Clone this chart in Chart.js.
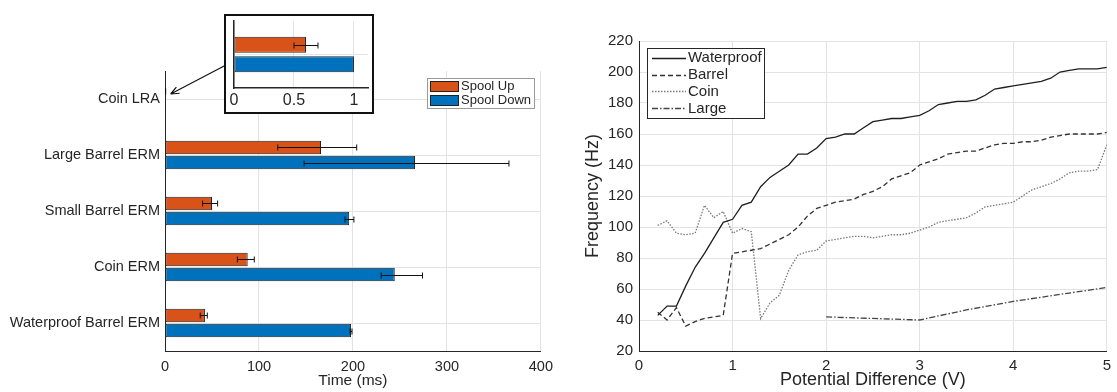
<!DOCTYPE html>
<html>
<head>
<meta charset="utf-8">
<script src="https://cdn.jsdelivr.net/npm/chart.js@4/dist/chart.umd.min.js"></script>
<style>
  body { margin: 0; background: #fff; }
  #wrap { position: relative; width: 1117px; height: 392px; overflow: hidden; }
  canvas { display: block; }
  #bars { position: absolute; left: 0; top: 0; }
  #lines { position: absolute; left: 560px; top: 0; }
  #inset { position: absolute; left: 224px; top: 14px; width: 146px; height: 96px;
           border: 2px solid #111; background: #fff; z-index: 2; }
</style>
</head>
<body>
<div id="wrap">
  <canvas id="bars" width="560" height="392"></canvas>
  <canvas id="lines" width="557" height="392"></canvas>
  <div id="inset"><canvas id="zoomBars" width="146" height="96"></canvas></div>
</div>

<script>
// ---- datos: tiempos de arranque / parada (ms) ----
const devices = ['Coin LRA', 'Large Barrel ERM', 'Small Barrel ERM', 'Coin ERM', 'Waterproof Barrel ERM'];
const spoolUp     = [0.6, 166, 50, 88, 42.5];
const spoolUpLo   = [0.5, 120, 40, 77, 37.5];
const spoolUpHi   = [0.7, 204, 56, 95, 45];
const spoolDown   = [1.0, 266, 196, 244.5, 198];
const spoolDownLo = [1.0, 148, 191.5, 230, 197];
const spoolDownHi = [1.0, 366, 201, 274, 199];
const timeTicks = [0, 100, 200, 300, 400];

// ---- datos: frecuencia vs tension ----
const volts = [0.2,0.3,0.4,0.5,0.6,0.7,0.8,0.9,1.0,1.1,1.2,1.3,1.4,1.5,1.6,1.7,1.8,1.9,2.0,
               2.1,2.2,2.3,2.4,2.5,2.6,2.7,2.8,2.9,3.0,3.1,3.2,3.3,3.4,3.5,3.6,3.7,3.8,3.9,4.0,
               4.1,4.2,4.3,4.4,4.5,4.6,4.7,4.8,4.9,5.0];
const waterproofHz = [43,49,49,62,74,83,93,103,105, 114,116,126,132,136,140,147,147,151,157,
                      158,160,160,164,168,169,170,170,171,172, 175,179,180,181,181,182,185,189,190,191,
                      192,193,194,196,200,201,202,202,202,203];
const barrelHz = [45,40,48,36,39,41,42,43,83, 84,85,86,89,92,95,100,107,112,114,
                  116,117,118,121,123,126,131,133,135,140, 142,144,147,148,149,149,151,153,154,154,
                  155,155,156,158,159,160,160,160,160,161];
const coinHz = [101,104,96,95,96,114,106,110,96, 99,97,41,51,56,72,82,84,85,91,
                92,93,94,94,93,94,95,95,96,98, 100,103,104,105,106,109,113,114,115,116,
                120,124,126,128,131,135,136,136,137,153];
const largeVolts = [2.0, 2.5, 3.0, 3.5, 4.0, 4.5, 5.0];
const largeHz    = [42, 41, 40, 46.5, 52, 56.5, 61];

const ORANGE = '#D95319', BLUE = '#0072BD', INK = '#262626', GRID = '#e3e3e3';
const INSET = { left: 224, top: 14, height: 100 };

Chart.defaults.font.family = "'Liberation Sans', Arial, sans-serif";
Chart.defaults.color = INK;
Chart.defaults.animation = false;

// Barras de error horizontales (lee errLo / errHi del dataset)
const errorBars = {
  id: 'errorBars',
  afterDatasetsDraw(chart) {
    const { ctx } = chart;
    const x = chart.scales.x;
    ctx.save();
    ctx.strokeStyle = '#111';
    ctx.lineWidth = 1;
    chart.data.datasets.forEach((ds, i) => {
      if (!ds.errLo) return;
      chart.getDatasetMeta(i).data.forEach((bar, j) => {
        const lo = ds.errLo[j], hi = ds.errHi[j];
        if (lo === hi) return;
        const x0 = x.getPixelForValue(lo), x1 = x.getPixelForValue(hi), y = Math.round(bar.y) + 0.5;
        ctx.beginPath();
        ctx.moveTo(x0, y); ctx.lineTo(x1, y);
        ctx.moveTo(x0, y - 3); ctx.lineTo(x0, y + 3);
        ctx.moveTo(x1, y - 3); ctx.lineTo(x1, y + 3);
        ctx.stroke();
      });
    });
    ctx.restore();
  }
};

// Leyenda con marco dentro del area de trazado
const frameLegend = {
  id: 'frameLegend',
  afterDraw(chart, args, o) {
    if (!o || o.w == null) return;
    const { ctx, chartArea } = chart;
    const x = chartArea.left + o.dx, y = chartArea.top + o.dy;
    ctx.save();
    ctx.fillStyle = '#fff';
    ctx.fillRect(x, y, o.w, o.h);
    ctx.strokeStyle = o.border;
    ctx.lineWidth = 1;
    ctx.strokeRect(x + 0.5, y + 0.5, o.w, o.h);
    ctx.font = o.font;
    ctx.textBaseline = 'middle';
    chart.data.datasets.forEach((ds, i) => {
      const cy = y + o.pad + i * o.row + o.row / 2;
      if (o.swatch) {
        ctx.fillStyle = ds.backgroundColor;
        ctx.fillRect(x + 3, cy - 5, 28, 10);
        ctx.strokeStyle = '#222';
        ctx.strokeRect(x + 3.5, cy - 4.5, 28, 10);
      } else {
        ctx.strokeStyle = ds.borderColor;
        ctx.lineWidth = ds.borderWidth;
        ctx.setLineDash(ds.borderDash || []);
        ctx.beginPath();
        ctx.moveTo(x + 5, Math.round(cy) + 0.5);
        ctx.lineTo(x + 39, Math.round(cy) + 0.5);
        ctx.stroke();
        ctx.setLineDash([]);
      }
      ctx.fillStyle = INK;
      ctx.fillText(ds.label, x + o.textX, cy + 0.5);
    });
    ctx.restore();
  }
};

// Flecha que une el recuadro ampliado con la barra Coin LRA
const calloutArrow = {
  id: 'calloutArrow',
  afterDraw(chart) {
    const { ctx } = chart;
    const tx = chart.scales.x.getPixelForValue(6);
    const ty = chart.scales.y.getPixelForValue(0) - 5;
    const sx = INSET.left + 2, sy = INSET.top + INSET.height / 2 + 1;
    const a = Math.atan2(ty - sy, tx - sx);
    ctx.save();
    ctx.strokeStyle = '#111';
    ctx.lineWidth = 1.2;
    ctx.beginPath();
    ctx.moveTo(sx, sy); ctx.lineTo(tx, ty);
    ctx.moveTo(tx, ty); ctx.lineTo(tx - 9 * Math.cos(a - 0.4), ty - 9 * Math.sin(a - 0.4));
    ctx.moveTo(tx, ty); ctx.lineTo(tx - 9 * Math.cos(a + 0.4), ty - 9 * Math.sin(a + 0.4));
    ctx.stroke();
    ctx.restore();
  }
};

function barDatasets(n) {
  return [
    { label: 'Spool Up', data: spoolUp.slice(0, n), errLo: spoolUpLo, errHi: spoolUpHi,
      backgroundColor: ORANGE, borderColor: '#222', borderWidth: 1, borderSkipped: false },
    { label: 'Spool Down', data: spoolDown.slice(0, n), errLo: spoolDownLo, errHi: spoolDownHi,
      backgroundColor: BLUE, borderColor: '#222', borderWidth: 1, borderSkipped: false }
  ];
}

// ---------- grafico de barras principal ----------
new Chart(document.getElementById('bars'), {
  type: 'bar',
  data: { labels: devices, datasets: barDatasets(devices.length) },
  plugins: [errorBars, frameLegend, calloutArrow],
  options: {
    indexAxis: 'y',
    responsive: false,
    layout: { padding: { top: 71, right: 18, bottom: 0, left: 0 } },
    datasets: { bar: { categoryPercentage: 0.54, barPercentage: 0.9 } },
    plugins: {
      legend: { display: false },
      tooltip: { enabled: false },
      frameLegend: { dx: 262, dy: 7, w: 107, h: 30, pad: 1, row: 14, swatch: true,
                     textX: 34, font: "13px 'Liberation Sans', Arial, sans-serif", border: '#9a9a9a' }
    },
    scales: {
      x: {
        min: 0, max: 400,
        afterBuildTicks: (s) => { s.ticks = timeTicks.map(v => ({ value: v })); },
        afterFit: (s) => { s.height = 41; },
        grid: { color: GRID, drawTicks: false },
        border: { color: INK, width: 1 },
        ticks: { padding: 7, font: { size: 14.5 } },
        title: { display: true, text: 'Time (ms)', font: { size: 15.5 }, padding: { top: 0, bottom: 2 } }
      },
      y: {
        afterFit: (s) => { s.width = 165; },
        grid: { color: GRID, drawTicks: false, offset: false },
        border: { color: INK, width: 1 },
        ticks: { padding: 5, font: { size: 14.5 } }
      }
    }
  }
});

// ---------- recuadro ampliado de Coin LRA ----------
new Chart(document.getElementById('zoomBars'), {
  type: 'bar',
  data: { labels: devices.slice(0, 1), datasets: barDatasets(1) },
  plugins: [errorBars],
  options: {
    indexAxis: 'y',
    responsive: false,
    layout: { padding: { top: 5, right: 4, bottom: 0, left: 0 } },
    datasets: { bar: { categoryPercentage: 0.58, barPercentage: 0.82 } },
    plugins: { legend: { display: false }, tooltip: { enabled: false } },
    scales: {
      x: {
        min: 0, max: 1.117,
        ticks: { stepSize: 0.5, includeBounds: false, padding: 3, font: { size: 16 },
                 callback: (v) => String(v) },
        afterFit: (s) => { s.height = 24; },
        grid: { color: GRID, drawTicks: false },
        border: { color: INK, width: 1.5 }
      },
      y: {
        afterFit: (s) => { s.width = 8; },
        grid: { color: GRID, drawTicks: false, offset: false },
        border: { color: INK, width: 1.5 },
        ticks: { display: false }
      }
    }
  }
});

// ---------- frecuencia vs diferencia de potencial ----------
const pts = (xs, ys) => xs.map((v, i) => ({ x: v, y: ys[i] }));

new Chart(document.getElementById('lines'), {
  type: 'line',
  data: {
    datasets: [
      { label: 'Waterproof', data: pts(volts, waterproofHz), borderColor: '#1f1f1f', borderWidth: 1.3 },
      { label: 'Barrel', data: pts(volts, barrelHz), borderColor: '#333', borderWidth: 1.3, borderDash: [5, 3] },
      { label: 'Coin', data: pts(volts, coinHz), borderColor: '#7a7a7a', borderWidth: 1.3, borderDash: [1.5, 1.5] },
      { label: 'Large', data: pts(largeVolts, largeHz), borderColor: '#444', borderWidth: 1.3, borderDash: [6, 2, 1.5, 2] }
    ]
  },
  plugins: [frameLegend],
  options: {
    responsive: false,
    layout: { padding: { top: 41, right: 5, bottom: 0, left: 0 } },
    elements: { point: { radius: 0 }, line: { tension: 0, fill: false } },
    plugins: {
      legend: { display: false },
      tooltip: { enabled: false },
      frameLegend: { dx: 8, dy: 7, w: 117, h: 70, pad: 1.5, row: 16.7, swatch: false,
                     textX: 41, font: "15px 'Liberation Sans', Arial, sans-serif", border: INK }
    },
    scales: {
      x: {
        type: 'linear', min: 0, max: 5,
        ticks: { stepSize: 1, padding: 6, font: { size: 15 } },
        afterFit: (s) => { s.height = 41; },
        grid: { color: GRID, drawTicks: false },
        border: { color: INK, width: 1 },
        title: { display: true, text: 'Potential Difference (V)', font: { size: 18 }, padding: { top: 0, bottom: 1 } }
      },
      y: {
        min: 20, max: 220,
        ticks: { stepSize: 20, padding: 6, font: { size: 15 } },
        afterFit: (s) => { s.width = 79; },
        grid: { color: GRID, drawTicks: false },
        border: { color: INK, width: 1 },
        title: { display: true, text: 'Frequency (Hz)', font: { size: 18 }, padding: { top: 22, bottom: 0 } }
      }
    }
  }
});
</script>
</body>
</html>
